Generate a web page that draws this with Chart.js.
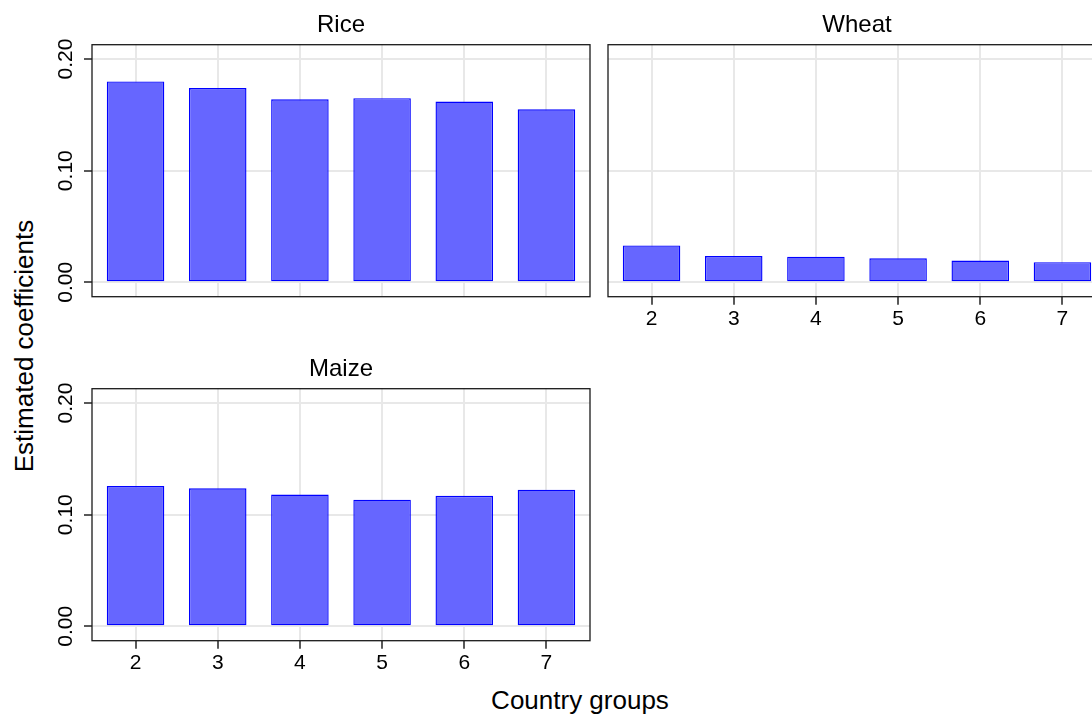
<!DOCTYPE html>
<html>
<head>
<meta charset="utf-8">
<title>Estimated coefficients by country group</title>
<script src="https://cdn.jsdelivr.net/npm/chart.js@4"></script>
<style>
  html, body { margin: 0; padding: 0; background: #fff; }
  body { width: 1092px; height: 715px; position: relative; overflow: hidden;
         font-family: "Liberation Sans", Arial, Helvetica, sans-serif; }
  canvas { position: absolute; }
  .axis-title { position: absolute; width: 400px; height: 26px; line-height: 26px;
                font-size: 26px; text-align: center; color: #000; white-space: nowrap; }
</style>
</head>
<body>
<canvas id="rice" width="560" height="320" style="left:40px;top:0px"></canvas>
<canvas id="wheat" width="520" height="340" style="left:598px;top:0px"></canvas>
<canvas id="maize" width="560" height="340" style="left:40px;top:344px"></canvas>
<div class="axis-title" style="left:-176px;top:333px;transform:rotate(-90deg)">Estimated coefficients</div>
<div class="axis-title" style="left:380px;top:687px">Country groups</div>

<script>
// Country groups on the x axis
const groups = [2, 3, 4, 5, 6, 7];

// Estimated coefficient per crop and country group
const riceCoef  = [0.180, 0.174, 0.164, 0.165, 0.162, 0.155];
const wheatCoef = [0.033, 0.0235, 0.023, 0.0215, 0.0195, 0.018];
const maizeCoef = [0.1257, 0.1236, 0.118, 0.1135, 0.117, 0.1224];

// Shared y axis ticks
const yTicks = [0, 0.1, 0.2];
const yTickLabels = ['0.00', '0.10', '0.20'];

const FONT = '"Liberation Sans", Arial, Helvetica, sans-serif';
Chart.defaults.font.family = FONT;
Chart.defaults.color = '#000';

// Black box around each panel's plotting region
const framePlugin = {
  id: 'frame',
  afterDatasetsDraw(chart) {
    const { ctx, chartArea: a } = chart;
    ctx.save();
    ctx.strokeStyle = '#1a1a1a';
    ctx.lineWidth = 1.3;
    ctx.strokeRect(a.left, a.top, a.right - a.left, a.bottom - a.top);
    ctx.restore();
  }
};

// Vertical (rotated) y tick labels, placed through the y scale
const yLabelPlugin = {
  id: 'yLabels',
  afterDraw(chart) {
    const s = chart.scales.y, ctx = chart.ctx;
    ctx.save();
    ctx.fillStyle = '#000';
    ctx.font = '21px ' + FONT;
    ctx.textAlign = 'center';
    ctx.textBaseline = 'alphabetic';
    yTicks.forEach((v, i) => {
      const y = s.getPixelForValue(v);
      ctx.save();
      ctx.translate(chart.chartArea.left - 19.7, y);
      ctx.rotate(-Math.PI / 2);
      ctx.fillText(yTickLabels[i], 0, 0);
      ctx.restore();
    });
    ctx.restore();
  }
};

function panel(id, title, values, o) {
  const grid = { color: '#e8e8e8', lineWidth: 2, tickLength: 8, tickColor: '#222', tickWidth: 1.5, offset: false };
  return new Chart(document.getElementById(id), {
    type: 'bar',
    data: {
      datasets: [{
        data: groups.map((g, i) => ({ x: g, y: values[i] })),
        backgroundColor: '#6666ff',
        borderColor: '#0000ff',
        borderWidth: 1.4,
        borderSkipped: false,
        barPercentage: 0.7,
        categoryPercentage: 1
      }]
    },
    options: {
      responsive: false,
      animation: false,
      layout: { padding: { left: 0, right: o.padRight, top: 0, bottom: o.padBottom } },
      plugins: {
        legend: { display: false },
        tooltip: { enabled: false },
        title: {
          display: true, text: title, fullSize: false, color: '#000',
          font: { size: 24, weight: 'normal' },
          padding: { top: 11.2, bottom: 4.7 }
        }
      },
      scales: {
        x: {
          type: 'linear', min: 1.47, max: 7.53, offset: false,
          afterBuildTicks: s => { s.ticks = groups.map(v => ({ value: v })); },
          afterFit: s => { s.height = o.xLabels ? 40 : 0; },
          ticks: { display: o.xLabels, padding: 2, color: '#000', font: { size: 21 },
                   maxRotation: 0, autoSkip: false, callback: v => String(v) },
          grid: Object.assign({}, grid, { drawTicks: o.xLabels }),
          border: { display: false }
        },
        y: {
          min: -0.0129, max: 0.2129,
          afterBuildTicks: s => { s.ticks = yTicks.map(v => ({ value: v })); },
          afterFit: s => { s.width = o.yWidth; },
          ticks: { display: false },
          grid: Object.assign({}, grid, { drawTicks: o.yLabels }),
          border: { display: false }
        }
      }
    },
    plugins: o.yLabels ? [framePlugin, yLabelPlugin] : [framePlugin]
  });
}

panel('rice',  'Rice',  riceCoef,  { xLabels: false, yLabels: true,  yWidth: 52, padRight: 10, padBottom: 23.3 });
panel('wheat', 'Wheat', wheatCoef, { xLabels: true,  yLabels: false, yWidth: 10, padRight: 12, padBottom: 3.3 });
panel('maize', 'Maize', maizeCoef, { xLabels: true,  yLabels: true,  yWidth: 52, padRight: 10, padBottom: 3.3 });
</script>
</body>
</html>
